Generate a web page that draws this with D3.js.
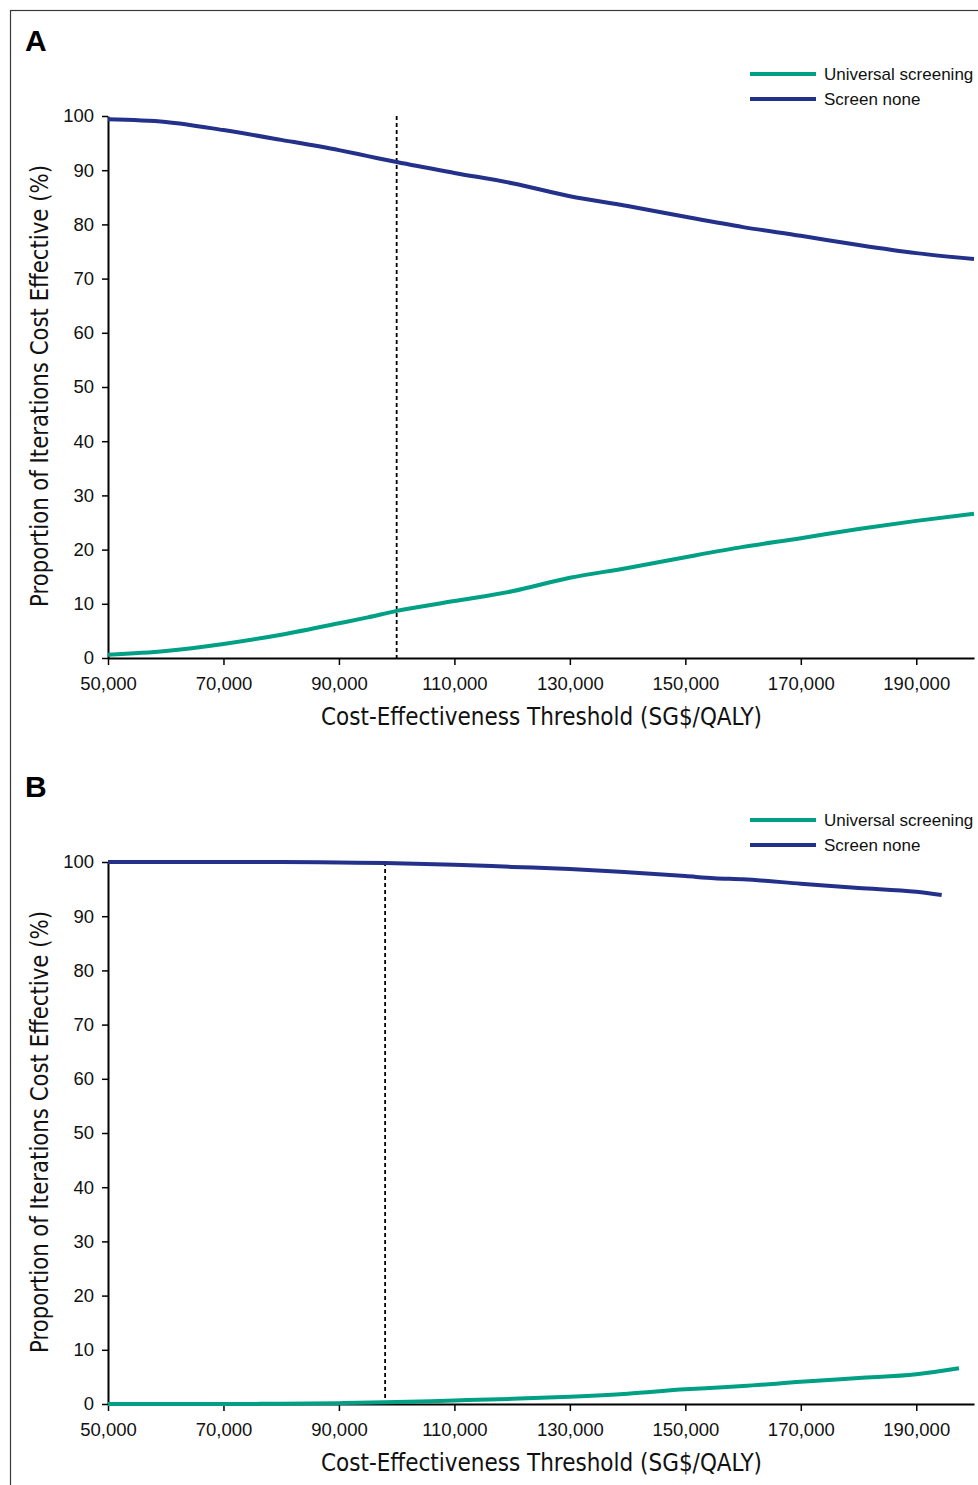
<!DOCTYPE html>
<html>
<head>
<meta charset="utf-8">
<script src="https://cdn.jsdelivr.net/npm/d3@7"></script>
<style>
  html, body { margin: 0; padding: 0; background: #fff; }
  svg { display: block; }
</style>
</head>
<body>
<svg id="chart" width="978" height="1485"></svg>
<script>
// ---------- DATA ----------
const seriesNames = ["Universal screening", "Screen none"];
const xTickValues = [50000, 70000, 90000, 110000, 130000, 150000, 170000, 190000];
const yTickValues = [0, 10, 20, 30, 40, 50, 60, 70, 80, 90, 100];

// Panel A
const thresholdsA = [50000, 60000, 70000, 80000, 90000, 95000, 100000, 110000, 120000, 130000, 140000, 150000, 160000, 170000, 180000, 190000, 200000];
const universalA  = [0.6, 1.3, 2.6, 4.3, 6.4, 7.5, 8.7, 10.5, 12.3, 14.8, 16.6, 18.6, 20.5, 22.1, 23.8, 25.3, 26.6];
const screenNoneA = [99.4, 98.9, 97.4, 95.6, 93.7, 92.6, 91.5, 89.5, 87.6, 85.2, 83.4, 81.4, 79.5, 77.9, 76.2, 74.7, 73.6];
const dashedA = 100000;

// Panel B
const thresholdsB1 = [50000, 60000, 70000, 80000, 90000, 98000, 110000, 120000, 130000, 140000, 150000, 155000, 160000, 170000, 180000, 190000, 197400];
const universalB   = [0.0, 0.0, 0.0, 0.05, 0.15, 0.3, 0.65, 0.95, 1.35, 1.9, 2.7, 3.0, 3.3, 4.1, 4.8, 5.5, 6.6];
const thresholdsB2 = [50000, 60000, 70000, 80000, 90000, 98000, 110000, 120000, 130000, 140000, 150000, 155000, 160000, 170000, 180000, 190000, 194400];
const screenNoneB  = [100, 100, 100, 100, 99.9, 99.8, 99.5, 99.1, 98.7, 98.1, 97.4, 97.0, 96.8, 96.0, 95.2, 94.5, 93.9];
const dashedB = 98000;

// ---------- DRAW ----------
const svg = d3.select("#chart");
const colors = { "Universal screening": "#00a085", "Screen none": "#24318a" };
const tickFont = "'Liberation Sans', Arial, Helvetica, sans-serif";
const condFont = "'Liberation Sans Narrow', 'DejaVu Sans Condensed', 'Roboto', sans-serif";

// outer frame
svg.append("rect")
  .attr("x", 10.5).attr("y", 10.5)
  .attr("width", 1000).attr("height", 1500)
  .attr("fill", "none").attr("stroke", "#3a3a3a").attr("stroke-width", 1.2);

function zip(xs, ys) { return xs.map((x, i) => ({ x: x, y: ys[i] })); }

function drawPanel(cfg) {
  const g = svg.append("g");
  const x = d3.scaleLinear().domain([50000, 200000]).range([108, 974]);
  const y = d3.scaleLinear().domain([0, 100]).range([cfg.y0, cfg.y0 - 542]);

  // panel letter
  g.append("text")
    .attr("x", 25).attr("y", cfg.labelY)
    .attr("font-family", tickFont).attr("font-weight", "bold")
    .attr("font-size", 30).attr("fill", "#000")
    .text(cfg.label);

  // x axis
  const xAxis = d3.axisBottom(x).tickValues(xTickValues)
    .tickFormat(d3.format(",")).tickSize(7).tickSizeOuter(0).tickPadding(12);
  const gx = g.append("g").attr("transform", `translate(0,${cfg.y0})`).call(xAxis);
  gx.select(".domain").attr("stroke", "#000").attr("stroke-width", 2);
  gx.selectAll(".tick line").attr("stroke", "#000").attr("stroke-width", 1.5);
  gx.selectAll(".tick text").attr("font-family", tickFont).attr("font-size", 18.5).attr("fill", "#111");

  // y axis
  const yAxis = d3.axisLeft(y).tickValues(yTickValues)
    .tickSize(6).tickSizeOuter(0).tickPadding(8);
  const gy = g.append("g").attr("transform", "translate(108,0)").call(yAxis);
  gy.select(".domain").attr("stroke", "#000").attr("stroke-width", 2);
  gy.selectAll(".tick line").attr("stroke", "#000").attr("stroke-width", 1.5);
  gy.selectAll(".tick text").attr("font-family", tickFont).attr("font-size", 18.5).attr("fill", "#111");

  // dashed threshold line
  g.append("line")
    .attr("x1", x(cfg.dashed)).attr("x2", x(cfg.dashed))
    .attr("y1", y(100)).attr("y2", y(0))
    .attr("stroke", "#000").attr("stroke-width", 1.8)
    .attr("stroke-dasharray", "4,3");

  const line = d3.line().x(d => x(d.x)).y(d => y(d.y)).curve(d3.curveMonotoneX);

  cfg.series.forEach(s => {
    g.append("path")
      .datum(s.data)
      .attr("fill", "none")
      .attr("stroke", colors[s.name])
      .attr("stroke-width", 4)
      .attr("stroke-linecap", "butt")
      .attr("d", line);
  });

  // legend
  seriesNames.forEach((name, i) => {
    const ly = cfg.legendY + i * 25;
    g.append("line")
      .attr("x1", 750).attr("x2", 816).attr("y1", ly).attr("y2", ly)
      .attr("stroke", colors[name]).attr("stroke-width", 4);
    g.append("text")
      .attr("x", 824).attr("y", ly + 6)
      .attr("font-family", tickFont).attr("font-size", 17).attr("fill", "#111")
      .text(name);
  });

  // axis titles
  g.append("text")
    .attr("x", 321).attr("y", cfg.y0 + 67)
    .attr("font-family", condFont).attr("font-size", 25).attr("fill", "#111")
    .attr("textLength", 441).attr("lengthAdjust", "spacingAndGlyphs")
    .text("Cost-Effectiveness Threshold (SG$/QALY)");

  const cy = cfg.y0 - 272;
  g.append("text")
    .attr("transform", `translate(48,${cy + 221}) rotate(-90)`)
    .attr("x", 0).attr("y", 0)
    .attr("font-family", condFont).attr("font-size", 25).attr("fill", "#111")
    .attr("textLength", 442).attr("lengthAdjust", "spacingAndGlyphs")
    .text("Proportion of Iterations Cost Effective (%)");
}

drawPanel({
  label: "A", labelY: 51, y0: 658, legendY: 74, dashed: dashedA,
  series: [
    { name: "Universal screening", data: zip(thresholdsA, universalA) },
    { name: "Screen none", data: zip(thresholdsA, screenNoneA) }
  ]
});

drawPanel({
  label: "B", labelY: 797, y0: 1404, legendY: 820, dashed: dashedB,
  series: [
    { name: "Universal screening", data: zip(thresholdsB1, universalB) },
    { name: "Screen none", data: zip(thresholdsB2, screenNoneB) }
  ]
});
</script>
</body>
</html>
